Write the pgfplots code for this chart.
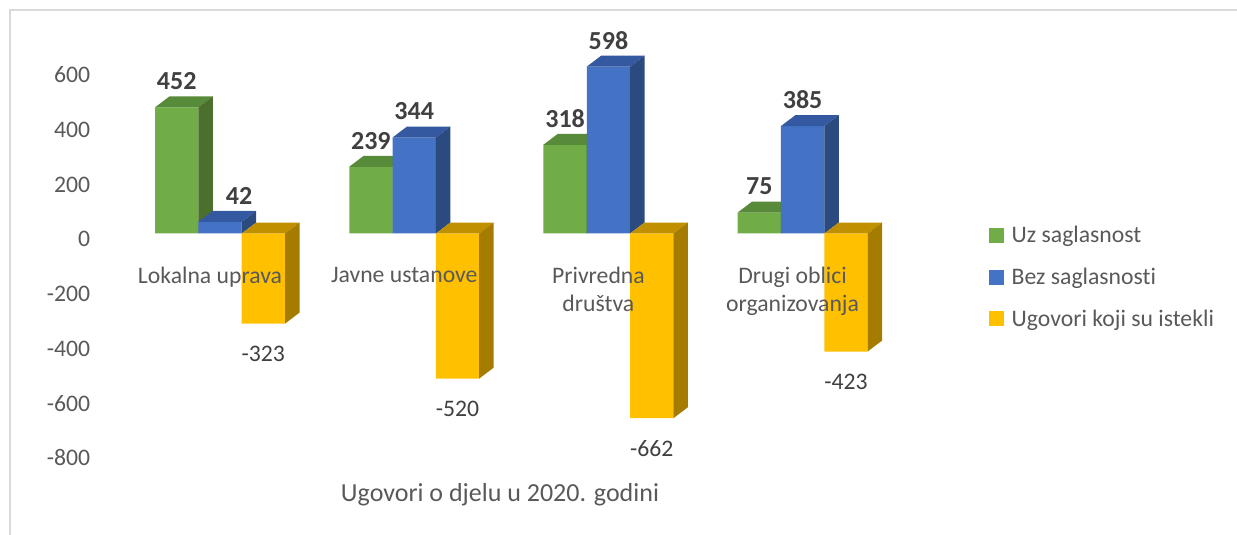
\documentclass[border=0pt]{standalone}
\usepackage{pgfplots}
\pgfplotsset{compat=1.18}
\usepackage{fontspec}
\setmainfont{Carlito}[Ligatures=NoCommon]
\definecolor{gfront}{HTML}{70AD47}
\definecolor{gtop}{HTML}{578A39}
\definecolor{gside}{HTML}{4B6F2D}
\definecolor{bfront}{HTML}{4472C4}
\definecolor{btop}{HTML}{3559A0}
\definecolor{bside}{HTML}{2B4A80}
\definecolor{yfront}{HTML}{FFC000}
\definecolor{ytop}{HTML}{C09000}
\definecolor{yside}{HTML}{A67C00}
\definecolor{txt}{HTML}{595959}
\definecolor{lbl}{HTML}{404040}
\definecolor{frame}{HTML}{D9D9D9}
\newcommand{\fs}{\fontsize{23.7pt}{28.5pt}\selectfont}
\newcommand{\ft}{\fontsize{26pt}{31pt}\selectfont}
\newcommand{\fb}{\fontsize{26pt}{31pt}\selectfont\bfseries}
% side and top faces of a 3D column, from its left edge and its value
\newcommand{\faces}[4]{%
 \pgfmathsetmacro\xl{#1}%
 \pgfmathsetmacro\xr{#1+0.2232}%
 \pgfmathsetmacro\xlb{#1+0.0747}%
 \pgfmathsetmacro\xrb{#1+0.2979}%
 \pgfmathsetmacro\vt{max(#2,0)}%
 \pgfmathsetmacro\vtb{max(#2,0)+39.4}%
 \pgfmathsetmacro\vb{#2+39.4}%
 \edef\tmp{\noexpand\addplot[draw=none,fill=#3,forget plot] coordinates {(\xl,\vt) (\xlb,\vtb) (\xrb,\vtb) (\xr,\vt)};%
 \noexpand\addplot[draw=none,fill=#4,forget plot] coordinates {(\xr,0) (\xrb,39.4) (\xrb,\vb) (\xr,#2)};}%
 \tmp}
\begin{document}
\begin{tikzpicture}
\useasboundingbox (-220pt,-301.5pt) rectangle (1017pt,233.5pt);
\draw[frame, line width=1.5pt] (-210pt,-301.5pt) -- (-210pt,223.5pt) -- (1017pt,223.5pt);
\begin{axis}[
  axis on top,
  at={(0pt,0pt)}, anchor=origin,
  x=194.2pt, y=0.279pt,
  xmin=-0.62, xmax=3.7, ymin=-850, ymax=700,
  clip=false,
  axis x line=middle, axis y line=left,
  axis line style={draw=none,-},
  major tick length=0pt,
  xtick={0,1,2,3},
  xticklabels={Lokalna uprava, Javne ustanove, Privredna\\društva, Drugi oblici\\organizovanja},
  xticklabel style={font=\fs, text=txt, align=center, anchor=north, xshift=-10pt, yshift=-30pt},
  ytick={568,372,176,-20,-216,-412,-608,-804},
  yticklabels={600,400,200,0,-200,-400,-600,-800},
  yticklabel style={font=\fs, text=txt, anchor=east, xshift=-6pt},
  legend style={at={(1.056,0.4478)}, anchor=west, draw=none, fill=none, font=\fs, text=txt, row sep=20pt,
    /tikz/every odd column/.append style={column sep=6pt}},
  legend cell align=left,
  legend image code/.code={\draw[#1,draw=none] (0pt,-7.5pt) rectangle (15pt,7.5pt);},
]
\addplot[ybar, bar width=43.3pt, bar shift=-43.3pt, fill=gfront, draw=none,
  nodes near coords={\pgfmathprintnumber[assume math mode=true]{\pgfplotspointmeta}},
  every node near coord/.append style={font=\fb, text=lbl, anchor=center, xshift=-43.3pt, yshift=26pt}]
  coordinates {(0,452) (1,239) (2,318) (3,75)};
\addlegendentry{Uz saglasnost}
\faces{-0.3348}{452}{gtop}{gside}
\faces{0.6652}{239}{gtop}{gside}
\faces{1.6652}{318}{gtop}{gside}
\faces{2.6652}{75}{gtop}{gside}
\addplot[ybar, bar width=43.3pt, bar shift=0pt, fill=bfront, draw=none,
  nodes near coords={\pgfmathprintnumber[assume math mode=true]{\pgfplotspointmeta}},
  every node near coord/.append style={font=\fb, text=lbl, anchor=center, yshift=26pt},
  coordinate style/.condition={y<100}{xshift=19pt}]
  coordinates {(0,42) (1,344) (2,598) (3,385)};
\addlegendentry{Bez saglasnosti}
\faces{-0.1116}{42}{btop}{bside}
\faces{0.8884}{344}{btop}{bside}
\faces{1.8884}{598}{btop}{bside}
\faces{2.8884}{385}{btop}{bside}
\addplot[ybar, bar width=43.3pt, bar shift=43.3pt, fill=yfront, draw=none,
  nodes near coords={\pgfmathprintnumber[assume math mode=true]{\pgfplotspointmeta}},
  every node near coord/.append style={font=\fs, text=lbl, anchor=center, xshift=43.3pt, yshift=-30pt}]
  coordinates {(0,-323) (1,-520) (2,-662) (3,-423)};
\addlegendentry{Ugovori koji su istekli}
\faces{0.1116}{-323}{ytop}{yside}
\faces{1.1116}{-520}{ytop}{yside}
\faces{2.1116}{-662}{ytop}{yside}
\faces{3.1116}{-423}{ytop}{yside}
\end{axis}
\node[font=\ft, text=txt] at (280pt,-261.5pt) {Ugovori o djelu u 2020. godini};
\end{tikzpicture}
\end{document}
